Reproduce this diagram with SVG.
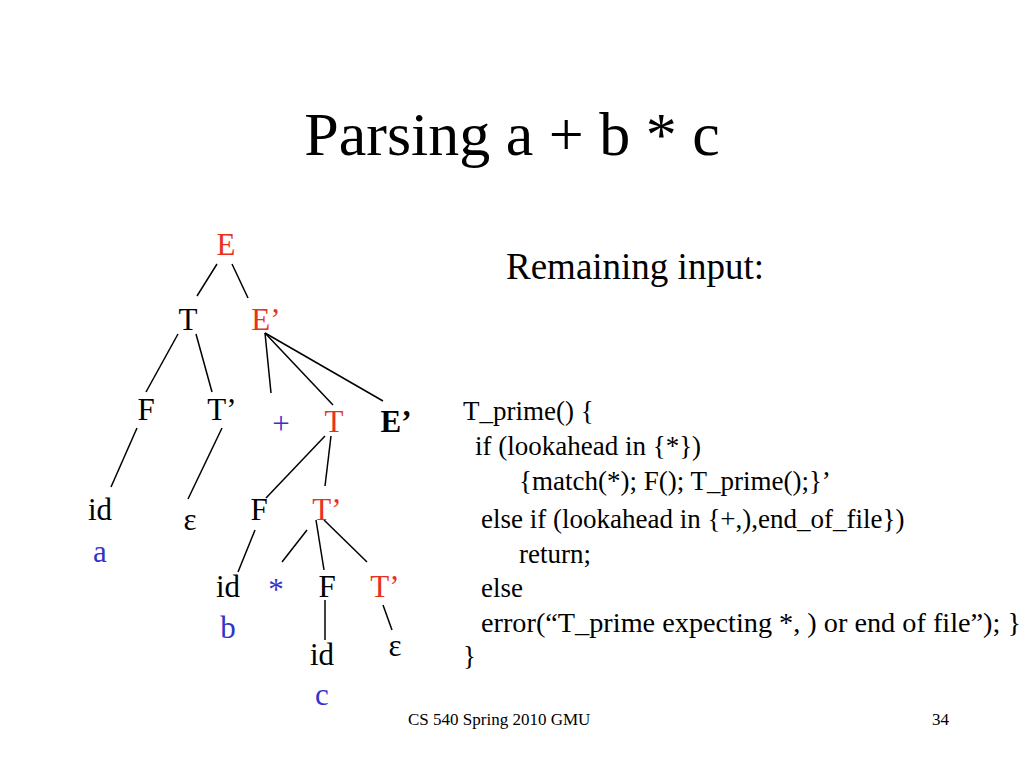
<svg xmlns="http://www.w3.org/2000/svg" width="1024" height="768" viewBox="0 0 1024 768">
<style>
text{font-family:"Liberation Serif","Times New Roman",serif;fill:#000}
.n{font-size:31px;text-anchor:middle}
.r{fill:#e8321e}
.b{fill:#3333cc}
.c{font-size:27px}
line{stroke:#000;stroke-width:1.5}
</style>
<rect width="1024" height="768" fill="#fff"/>
<text x="512" y="155" font-size="62" text-anchor="middle">Parsing a + b * c</text>
<text x="506" y="279" font-size="37">Remaining input:</text>
<g id="connectors">
<line x1="217" y1="264" x2="197" y2="296"/>
<line x1="232" y1="264" x2="248" y2="298"/>
<line x1="178" y1="334" x2="146" y2="392"/>
<line x1="196" y1="334" x2="212" y2="392"/>
<line x1="265" y1="333" x2="271" y2="393"/>
<line x1="265" y1="333" x2="333" y2="405"/>
<line x1="265" y1="333" x2="383" y2="401"/>
<line x1="137" y1="428" x2="111" y2="487"/>
<line x1="222" y1="428" x2="188" y2="499"/>
<line x1="325" y1="436" x2="266" y2="498"/>
<line x1="331" y1="436" x2="325" y2="486"/>
<line x1="255" y1="530" x2="238" y2="572"/>
<line x1="307" y1="530" x2="282" y2="562"/>
<line x1="316" y1="520" x2="324" y2="570"/>
<line x1="324" y1="520" x2="367" y2="562"/>
<line x1="325" y1="600" x2="325" y2="640"/>
<line x1="383" y1="605" x2="392" y2="630"/>
</g>
<g id="E"><text class="n r" x="226" y="255">E</text></g>
<g id="T1"><text class="n" x="188" y="330">T</text></g>
<g id="Ep1"><text class="n r" x="266" y="330">E’</text></g>
<g id="F1"><text class="n" x="146" y="420">F</text></g>
<g id="Tp1"><text class="n" x="222" y="420">T’</text></g>
<g id="plus"><text class="n b" x="281" y="434" font-size="36">+</text></g>
<g id="T2"><text class="n r" x="334" y="432">T</text></g>
<g id="Ep2"><text class="n" x="396" y="432" font-weight="bold">E’</text></g>
<g id="id1"><text class="n" x="100" y="520">id</text></g>
<g id="a"><text class="n b" x="100" y="562">a</text></g>
<g id="eps1"><text class="n" x="190" y="530">ε</text></g>
<g id="F2"><text class="n" x="259" y="520">F</text></g>
<g id="Tp2"><text class="n r" x="327" y="520">T’</text></g>
<g id="id2"><text class="n" x="228" y="597">id</text></g>
<g id="bl"><text class="n b" x="228" y="638">b</text></g>
<g id="star"><text class="n b" x="276" y="600">*</text></g>
<g id="F3"><text class="n" x="327" y="597">F</text></g>
<g id="Tp3"><text class="n r" x="385" y="597">T’</text></g>
<g id="id3"><text class="n" x="322" y="665">id</text></g>
<g id="cl"><text class="n b" x="322" y="705">c</text></g>
<g id="eps2"><text class="n" x="395" y="656">ε</text></g>
<g id="code">
<text class="c" x="463" y="420">T_prime() {</text>
<text class="c" x="475" y="455">if (lookahead in {*})</text>
<text class="c" x="519" y="490">{match(*); F(); T_prime();}’</text>
<text class="c" x="481" y="528">else if (lookahead in {+,),end_of_file})</text>
<text class="c" x="519" y="563">return;</text>
<text class="c" x="481" y="597">else</text>
<text class="c" x="481" y="632" textLength="540" lengthAdjust="spacingAndGlyphs">error(“T_prime expecting *, ) or end of file”); }</text>
<text class="c" x="463" y="665">}</text>
</g>
<text x="408" y="725" font-size="17">CS 540 Spring 2010 GMU</text>
<text x="932" y="725" font-size="17">34</text>
</svg>
